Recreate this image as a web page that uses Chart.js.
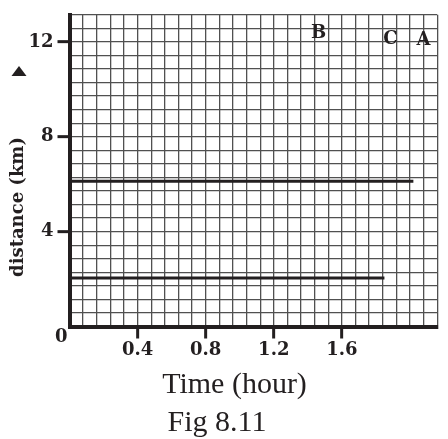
<!DOCTYPE html>
<html>
<head>
<meta charset="utf-8">
<script src="https://cdn.jsdelivr.net/npm/chart.js@4/dist/chart.umd.min.js"></script>
<style>
  html, body { margin: 0; padding: 0; background: #fff; }
  canvas { display: block; }
</style>
</head>
<body>
<canvas id="distChart" width="448" height="439"></canvas>
<script>
// axis ranges (hours / km) and grid cells
const xMax = 2.16;
const xCell = 0.08;
const yCells = 23;
const yCell = 4 / 7;
const xTickLabels = [0.4, 0.8, 1.2, 1.6];
const yTickLabels = [4, 8, 12];

// the two horizontal lines: distance level and where they stop
const lineLevels = [6.12, 2.05];
const lineEnds = [2.02, 1.85];

// letters written over the graph, in data coords
const letters = ['B', 'C', 'A'];
const letterX = [1.463, 1.885, 2.08];
const letterY = [12.36, 12.1, 12.06];

const ink = '#231f20';
const gridInk = '#505050';

function near(v, list) {
    return list.some(t => Math.abs(v - t) < 1e-6);
}

const xGridVals = [];
for (let i = 0; i * xCell <= xMax + 1e-9; i++) xGridVals.push(i * xCell);
const yGridVals = [];
for (let i = 0; i <= yCells; i++) yGridVals.push(i * yCell);

const extraText = {
    id: 'extraText',
    afterDraw(chart) {
        const ctx = chart.ctx;
        const xs = chart.scales.x, ys = chart.scales.y;
        ctx.save();
        ctx.fillStyle = ink;

        // y title, rotated
        ctx.save();
        ctx.translate(18, 207);
        ctx.rotate(-Math.PI / 2);
        ctx.font = 'bold 18px "DejaVu Serif"';
        ctx.textAlign = 'center';
        ctx.textBaseline = 'middle';
        ctx.fillText('distance (km)', 0, 0);
        ctx.restore();

        // arrow head above the y title
        ctx.beginPath();
        ctx.moveTo(11.5, 76);
        ctx.lineTo(26.5, 76);
        ctx.lineTo(19, 66);
        ctx.closePath();
        ctx.fill();

        // origin
        ctx.font = 'bold 18px "DejaVu Serif"';
        ctx.textAlign = 'center';
        ctx.textBaseline = 'middle';
        ctx.fillText('0', 61.3, 337);

        // letters
        letters.forEach((t, i) => {
            ctx.fillText(t, xs.getPixelForValue(letterX[i]), ys.getPixelForValue(letterY[i]));
        });

        // x title and figure caption
        ctx.font = '30px "Liberation Serif"';
        ctx.textBaseline = 'alphabetic';
        ctx.fillText('Time (hour)', 234.5, 393);
        ctx.fillText('Fig 8.11', 217, 431);
        ctx.restore();
    }
};

new Chart(document.querySelector('#distChart'), {
    type: 'line',
    data: {
        datasets: lineLevels.map((lvl, i) => ({
            data: [{x: 0, y: lvl}, {x: lineEnds[i], y: lvl}],
            borderColor: ink,
            borderWidth: 3,
            pointRadius: 0,
            borderCapStyle: 'butt',
        }))
    },
    options: {
        responsive: false,
        devicePixelRatio: 1,
        animation: false,
        events: [],
        layout: { padding: { left: 0, top: 14, right: 10.8, bottom: 0 } },
        plugins: {
            legend: { display: false },
            tooltip: { enabled: false },
        },
        scales: {
            x: {
                type: 'linear',
                min: 0,
                max: xMax,
                afterBuildTicks: s => { s.ticks = xGridVals.map(v => ({value: v})); },
                afterFit: s => { s.height = 439 - 326.5; },
                grid: {
                    color: gridInk,
                    lineWidth: 1.3,
                    tickLength: 12,
                    tickWidth: 3,
                    tickColor: c => near(c.tick.value, xTickLabels) ? ink : 'rgba(0,0,0,0)',
                },
                border: { color: ink, width: 4 },
                ticks: {
                    autoSkip: false,
                    maxRotation: 0,
                    minRotation: 0,
                    padding: 1,
                    color: ink,
                    font: { family: 'DejaVu Serif', weight: 'bold', size: 18 },
                    callback: v => near(v, xTickLabels) ? String(+v.toFixed(1)) : '',
                },
            },
            y: {
                type: 'linear',
                min: 0,
                max: yCells * yCell,
                afterBuildTicks: s => { s.ticks = yGridVals.map(v => ({value: v})); },
                afterFit: s => { s.width = 69.5; },
                grid: {
                    color: gridInk,
                    lineWidth: 1.3,
                    tickLength: 12,
                    tickWidth: 3,
                    tickColor: c => near(c.tick.value, yTickLabels) ? ink : 'rgba(0,0,0,0)',
                },
                border: { color: ink, width: 4 },
                ticks: {
                    autoSkip: false,
                    padding: 4,
                    color: ink,
                    font: { family: 'DejaVu Serif', weight: 'bold', size: 18 },
                    callback: v => near(v, yTickLabels) ? String(Math.round(v)) : '',
                },
            },
        },
    },
    plugins: [extraText],
});
</script>
</body>
</html>
